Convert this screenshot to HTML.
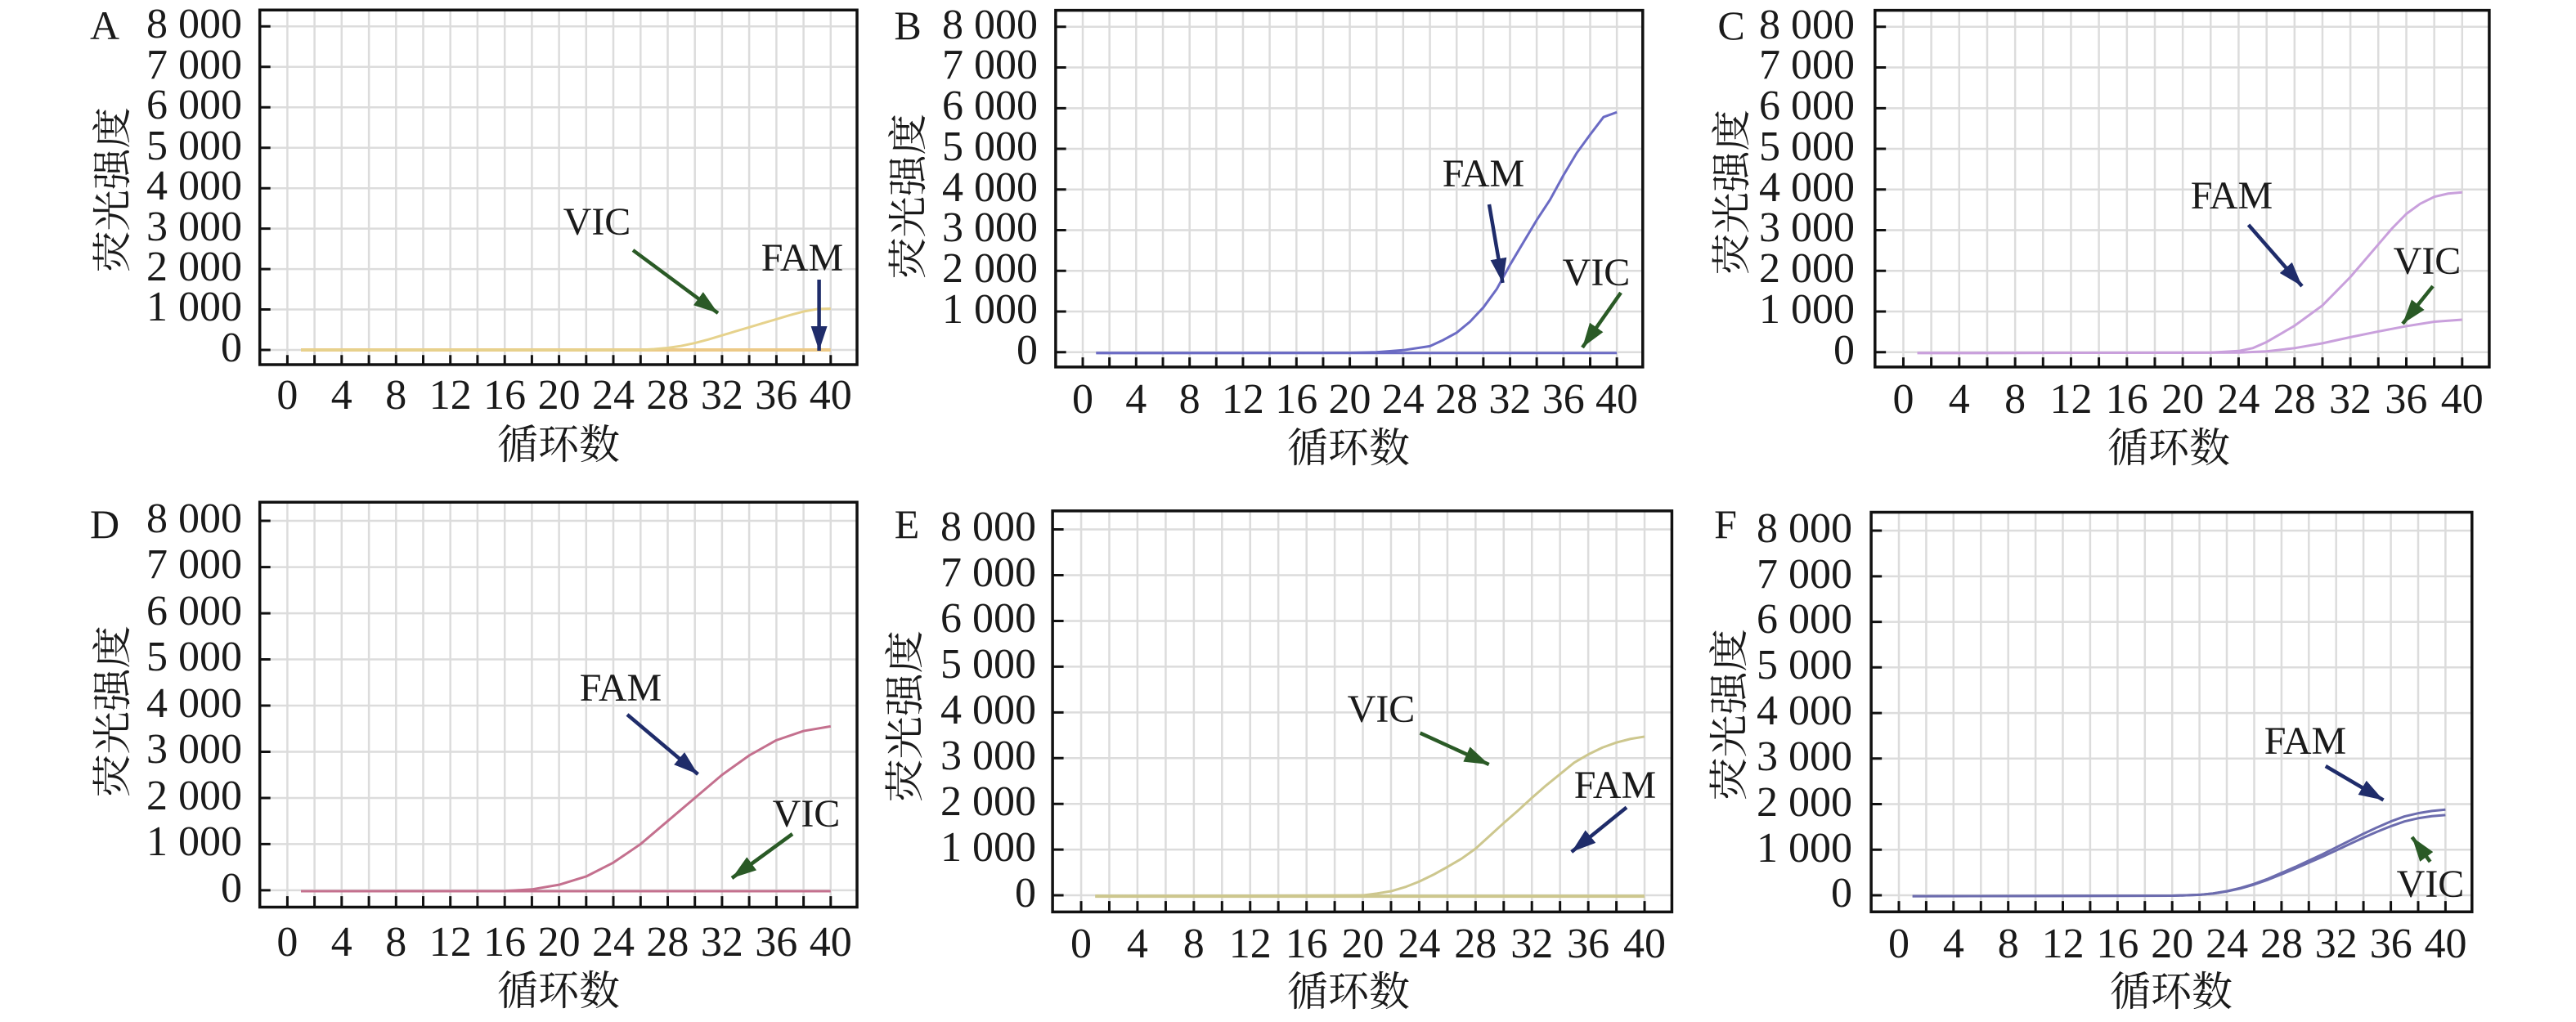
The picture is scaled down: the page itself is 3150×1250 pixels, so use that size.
<!DOCTYPE html>
<html><head><meta charset="utf-8"><style>
html,body{margin:0;padding:0;background:#fff;}
svg{display:block;}
.t{font-family:"Liberation Serif","Noto Serif CJK SC",serif;font-size:52px;fill:#1a1a1a;}
.ya{text-anchor:end;}
.xa{text-anchor:middle;}
.lb{font-family:"Liberation Serif",serif;font-size:48px;fill:#1a1a1a;text-anchor:middle;}
.cj{font-family:"Liberation Serif","Noto Serif CJK SC","Noto Sans CJK SC",serif;font-size:50px;fill:#1a1a1a;text-anchor:middle;}
.yl{font-family:"Liberation Serif","Noto Serif CJK SC","Noto Sans CJK SC",serif;font-size:48px;fill:#1a1a1a;}
.pl{font-family:"Liberation Serif",serif;font-size:50px;fill:#1a1a1a;text-anchor:middle;}
.c{fill:none;stroke-width:3;vector-effect:non-scaling-stroke;stroke-linejoin:round;}
</style></head><body>
<svg width="3150" height="1250" viewBox="0 0 3150 1250" xmlns="http://www.w3.org/2000/svg">
<defs>
<marker id="mb" viewBox="0 0 30 20" refX="30" refY="10" markerWidth="30" markerHeight="20" markerUnits="userSpaceOnUse" orient="auto"><path d="M0,0 L30,10 L0,20 z" fill="#1f2c6a"/></marker>
<marker id="mg" viewBox="0 0 30 20" refX="30" refY="10" markerWidth="30" markerHeight="20" markerUnits="userSpaceOnUse" orient="auto"><path d="M0,0 L30,10 L0,20 z" fill="#2a5a26"/></marker>
<g id="fr">
<g stroke="#dcdcdc" stroke-width="2.5">
<path vector-effect="non-scaling-stroke" d="M33.7,0V433.7M66.9,0V433.7M100.1,0V433.7M133.4,0V433.7M166.6,0V433.7M199.8,0V433.7M233,0V433.7M266.2,0V433.7M299.5,0V433.7M332.7,0V433.7M365.9,0V433.7M399.1,0V433.7M432.3,0V433.7M465.6,0V433.7M498.8,0V433.7M532,0V433.7M565.2,0V433.7M598.4,0V433.7M631.7,0V433.7M664.9,0V433.7M698.1,0V433.7"/>
<path vector-effect="non-scaling-stroke" d="M0,415.7H730M0,366.2H730M0,316.8H730M0,267.3H730M0,217.9H730M0,168.4H730M0,119H730M0,69.5H730M0,20H730"/>
</g>
<path fill="none" stroke="#111" stroke-width="3" vector-effect="non-scaling-stroke" d="M0,415.7H13M0,366.2H13M0,316.8H13M0,267.3H13M0,217.9H13M0,168.4H13M0,119H13M0,69.5H13M0,20H13M33.7,422V433.7M66.9,422V433.7M100.1,422V433.7M133.4,422V433.7M166.6,422V433.7M199.8,422V433.7M233,422V433.7M266.2,422V433.7M299.5,422V433.7M332.7,422V433.7M365.9,422V433.7M399.1,422V433.7M432.3,422V433.7M465.6,422V433.7M498.8,422V433.7M532,422V433.7M565.2,422V433.7M598.4,422V433.7M631.7,422V433.7M664.9,422V433.7M698.1,422V433.7"/>
<rect x="0" y="0" width="730.3" height="433.7" fill="none" stroke="#111" stroke-width="3.5" vector-effect="non-scaling-stroke"/>
</g>
</defs>

<!-- Panel A -->
<g transform="translate(317.7,12.3)">
<use href="#fr"/>
<g transform="translate(33.7,415.7) scale(16.61,-0.04946)">
<polyline class="c" stroke="#ecc987" style="stroke-width:4" points="1,0 40,0"/>
<polyline class="c" stroke="#e6d28c" points="1,0 26,0 27,20 28,50 29,100 30,170 31,260 32,360 33,460 34,560 35,660 36,760 37,860 38,950 39,1010 40,1020"/>
</g></g>
<!-- Panel B -->
<g transform="translate(1290.9,12.6) scale(0.983,1.006)">
<use href="#fr"/>
<g transform="translate(33.7,415.7) scale(16.61,-0.04946)">
<polyline class="c" stroke="#6b6bc4" points="1,-20 40,-20"/>
<polyline class="c" stroke="#6b6bc4" points="1,-20 20,-15 22,0 24,50 26,150 27,300 28,480 29,750 30,1100 31,1550 32,2150 33,2700 34,3250 35,3750 36,4350 37,4900 38,5350 39,5780 40,5900"/>
</g></g>
<!-- Panel C -->
<g transform="translate(2292.8,12.6) scale(1.0285,1.006)">
<use href="#fr"/>
<g transform="translate(33.7,415.7) scale(16.61,-0.04946)">
<polyline class="c" stroke="#c9a0dc" points="1,-20 22,-10 24,30 25,100 26,250 27,450 28,650 29,900 30,1150 31,1500 32,1850 33,2250 34,2650 35,3050 36,3400 37,3650 38,3820 39,3900 40,3930"/>
<polyline class="c" stroke="#c9a0dc" points="1,-20 24,-10 26,20 28,100 30,220 32,370 34,510 36,640 38,750 40,800"/>
</g></g>
<!-- Panel D -->
<g transform="translate(317.7,614.2) scale(1,1.142)">
<use href="#fr"/>
<g transform="translate(33.7,415.7) scale(16.61,-0.04946)">
<polyline class="c" stroke="#c4708e" points="1,-20 40,-20"/>
<polyline class="c" stroke="#c4708e" points="1,-20 16,-15 18,20 20,120 22,300 24,600 26,1000 28,1500 30,2000 32,2500 34,2920 36,3250 38,3450 40,3550"/>
</g></g>
<!-- Panel E -->
<g transform="translate(1287.1,624.9) scale(1.037,1.131)">
<use href="#fr"/>
<g transform="translate(33.7,415.7) scale(16.61,-0.04946)">
<polyline class="c" stroke="#cdc78e" style="stroke-width:4" points="1,-20 40,-20"/>
<polyline class="c" stroke="#cdc78e" points="1,-20 20,0 21,40 22,90 23,180 24,300 25,450 26,620 27,800 28,1020 29,1300 30,1580 31,1850 32,2130 33,2400 34,2650 35,2900 36,3080 37,3230 38,3340 39,3420 40,3470"/>
</g></g>
<!-- Panel F -->
<g transform="translate(2288.1,626.5) scale(1.006,1.127)">
<use href="#fr"/>
<g transform="translate(33.7,415.7) scale(16.61,-0.04946)">
<polyline class="c" stroke="#6c6cae" points="1,-20 20,-10 22,10 23,40 24,90 25,160 26,250 27,360 28,490 29,620 30,760 31,900 32,1050 33,1200 34,1350 35,1490 36,1620 37,1730 38,1800 39,1850 40,1880"/>
<polyline class="c" stroke="#6c6cae" points="1,-20 20,-10 22,10 23,38 24,85 25,150 26,235 27,340 28,460 29,585 30,715 31,845 32,985 33,1125 34,1265 35,1395 36,1515 37,1620 38,1690 39,1735 40,1760"/>
</g></g>

<!-- arrows -->
<g stroke-width="4.5" fill="none">
<line x1="774" y1="306" x2="878" y2="383" stroke="#2a5a26" marker-end="url(#mg)"/>
<line x1="1001.6" y1="342" x2="1001.6" y2="429" stroke="#1f2c6a" marker-end="url(#mb)"/>
<line x1="1821" y1="250" x2="1837.5" y2="346" stroke="#1f2c6a" marker-end="url(#mb)"/>
<line x1="1982" y1="358" x2="1935" y2="425" stroke="#2a5a26" marker-end="url(#mg)"/>
<line x1="2749.5" y1="275" x2="2815" y2="350" stroke="#1f2c6a" marker-end="url(#mb)"/>
<line x1="2975" y1="350" x2="2938" y2="396" stroke="#2a5a26" marker-end="url(#mg)"/>
<line x1="767" y1="874" x2="853.5" y2="947" stroke="#1f2c6a" marker-end="url(#mb)"/>
<line x1="969" y1="1020" x2="895" y2="1074" stroke="#2a5a26" marker-end="url(#mg)"/>
<line x1="1736.6" y1="896.6" x2="1820.7" y2="935" stroke="#2a5a26" marker-end="url(#mg)"/>
<line x1="1989" y1="987.5" x2="1921.7" y2="1042" stroke="#1f2c6a" marker-end="url(#mb)"/>
<line x1="2843.8" y1="937" x2="2914.5" y2="978.6" stroke="#1f2c6a" marker-end="url(#mb)"/>
<line x1="2971.7" y1="1054" x2="2949.5" y2="1023.8" stroke="#2a5a26" marker-end="url(#mg)"/>
</g>
<text class="lb" x="730" y="287">VIC</text>
<text class="lb" x="981" y="331">FAM</text>
<text class="lb" x="1814" y="228">FAM</text>
<text class="lb" x="1952" y="349">VIC</text>
<text class="lb" x="2729" y="255">FAM</text>
<text class="lb" x="2968" y="335">VIC</text>
<text class="lb" x="759" y="857">FAM</text>
<text class="lb" x="986" y="1011">VIC</text>
<text class="lb" x="1689" y="883">VIC</text>
<text class="lb" x="1975" y="976">FAM</text>
<text class="lb" x="2819" y="922">FAM</text>
<text class="lb" x="2972" y="1097">VIC</text>

<!-- panel letters -->
<text class="pl" x="128" y="48">A</text>
<text class="pl" x="1110" y="48">B</text>
<text class="pl" x="2117" y="48">C</text>
<text class="pl" x="128" y="658">D</text>
<text class="pl" x="1109" y="658">E</text>
<text class="pl" x="2110" y="658">F</text>

<!-- y titles -->
<text class="yl" font-size="48" transform="translate(154,232) rotate(-90)" x="-101" y="0" textLength="202" lengthAdjust="spacingAndGlyphs">荧光强度</text>
<text class="yl" font-size="48" transform="translate(1127,240) rotate(-90)" x="-101" y="0" textLength="202" lengthAdjust="spacingAndGlyphs">荧光强度</text>
<text class="yl" font-size="48" transform="translate(2134,235) rotate(-90)" x="-101" y="0" textLength="202" lengthAdjust="spacingAndGlyphs">荧光强度</text>
<text class="yl" font-size="48" transform="translate(154,870) rotate(-90)" x="-105" y="0" textLength="210" lengthAdjust="spacingAndGlyphs">荧光强度</text>
<text class="yl" font-size="48" transform="translate(1123,876) rotate(-90)" x="-105" y="0" textLength="210" lengthAdjust="spacingAndGlyphs">荧光强度</text>
<text class="yl" font-size="48" transform="translate(2131,874) rotate(-90)" x="-105" y="0" textLength="210" lengthAdjust="spacingAndGlyphs">荧光强度</text>

<!-- x titles -->
<text class="cj" x="683" y="561">循环数</text>
<text class="cj" x="1649" y="565">循环数</text>
<text class="cj" x="2652" y="565">循环数</text>
<text class="cj" x="683" y="1229">循环数</text>
<text class="cj" x="1649" y="1230">循环数</text>
<text class="cj" x="2655" y="1230">循环数</text>

<!-- y tick labels -->
<g class="t ya">
<text x="296" y="46">8 000</text><text x="296" y="96">7 000</text><text x="296" y="145">6 000</text><text x="296" y="195">5 000</text><text x="296" y="244">4 000</text><text x="296" y="294">3 000</text><text x="296" y="343">2 000</text><text x="296" y="392">1 000</text><text x="296" y="442">0</text>
<text x="1269" y="47">8 000</text><text x="1269" y="96">7 000</text><text x="1269" y="146">6 000</text><text x="1269" y="196">5 000</text><text x="1269" y="246">4 000</text><text x="1269" y="295">3 000</text><text x="1269" y="345">2 000</text><text x="1269" y="395">1 000</text><text x="1269" y="445">0</text>
<text x="2268" y="47">8 000</text><text x="2268" y="96">7 000</text><text x="2268" y="146">6 000</text><text x="2268" y="196">5 000</text><text x="2268" y="246">4 000</text><text x="2268" y="295">3 000</text><text x="2268" y="345">2 000</text><text x="2268" y="395">1 000</text><text x="2268" y="445">0</text>
<text x="296" y="651">8 000</text><text x="296" y="707">7 000</text><text x="296" y="764">6 000</text><text x="296" y="820">5 000</text><text x="296" y="877">4 000</text><text x="296" y="933">3 000</text><text x="296" y="990">2 000</text><text x="296" y="1046">1 000</text><text x="296" y="1103">0</text>
<text x="1267" y="661">8 000</text><text x="1267" y="717">7 000</text><text x="1267" y="773">6 000</text><text x="1267" y="829">5 000</text><text x="1267" y="885">4 000</text><text x="1267" y="941">3 000</text><text x="1267" y="997">2 000</text><text x="1267" y="1053">1 000</text><text x="1267" y="1109">0</text>
<text x="2265" y="663">8 000</text><text x="2265" y="719">7 000</text><text x="2265" y="774">6 000</text><text x="2265" y="830">5 000</text><text x="2265" y="886">4 000</text><text x="2265" y="942">3 000</text><text x="2265" y="998">2 000</text><text x="2265" y="1054">1 000</text><text x="2265" y="1109">0</text>
</g>

<!-- x tick labels -->
<g class="t xa">
<text x="351.4" y="500">0</text><text x="417.8" y="500">4</text><text x="484.3" y="500">8</text><text x="550.7" y="500">12</text><text x="617.1" y="500">16</text><text x="683.6" y="500">20</text><text x="750" y="500">24</text><text x="816.4" y="500">28</text><text x="882.9" y="500">32</text><text x="949.3" y="500">36</text><text x="1015.7" y="500">40</text>
<text x="1324" y="505">0</text><text x="1389.3" y="505">4</text><text x="1454.6" y="505">8</text><text x="1519.9" y="505">12</text><text x="1585.2" y="505">16</text><text x="1650.5" y="505">20</text><text x="1715.8" y="505">24</text><text x="1781.1" y="505">28</text><text x="1846.4" y="505">32</text><text x="1911.7" y="505">36</text><text x="1977" y="505">40</text>
<text x="2327.5" y="505">0</text><text x="2395.8" y="505">4</text><text x="2464.1" y="505">8</text><text x="2532.5" y="505">12</text><text x="2600.8" y="505">16</text><text x="2669.1" y="505">20</text><text x="2737.4" y="505">24</text><text x="2805.7" y="505">28</text><text x="2874" y="505">32</text><text x="2942.4" y="505">36</text><text x="3010.7" y="505">40</text>
<text x="351.4" y="1169">0</text><text x="417.8" y="1169">4</text><text x="484.3" y="1169">8</text><text x="550.7" y="1169">12</text><text x="617.1" y="1169">16</text><text x="683.6" y="1169">20</text><text x="750" y="1169">24</text><text x="816.4" y="1169">28</text><text x="882.9" y="1169">32</text><text x="949.3" y="1169">36</text><text x="1015.7" y="1169">40</text>
<text x="1322" y="1171">0</text><text x="1390.9" y="1171">4</text><text x="1459.8" y="1171">8</text><text x="1528.7" y="1171">12</text><text x="1597.6" y="1171">16</text><text x="1666.5" y="1171">20</text><text x="1735.4" y="1171">24</text><text x="1804.3" y="1171">28</text><text x="1873.2" y="1171">32</text><text x="1942.1" y="1171">36</text><text x="2011" y="1171">40</text>
<text x="2322" y="1171">0</text><text x="2388.9" y="1171">4</text><text x="2455.7" y="1171">8</text><text x="2522.6" y="1171">12</text><text x="2589.4" y="1171">16</text><text x="2656.3" y="1171">20</text><text x="2723.1" y="1171">24</text><text x="2790" y="1171">28</text><text x="2856.8" y="1171">32</text><text x="2923.7" y="1171">36</text><text x="2990.5" y="1171">40</text>
</g>
</svg>
</body></html>
